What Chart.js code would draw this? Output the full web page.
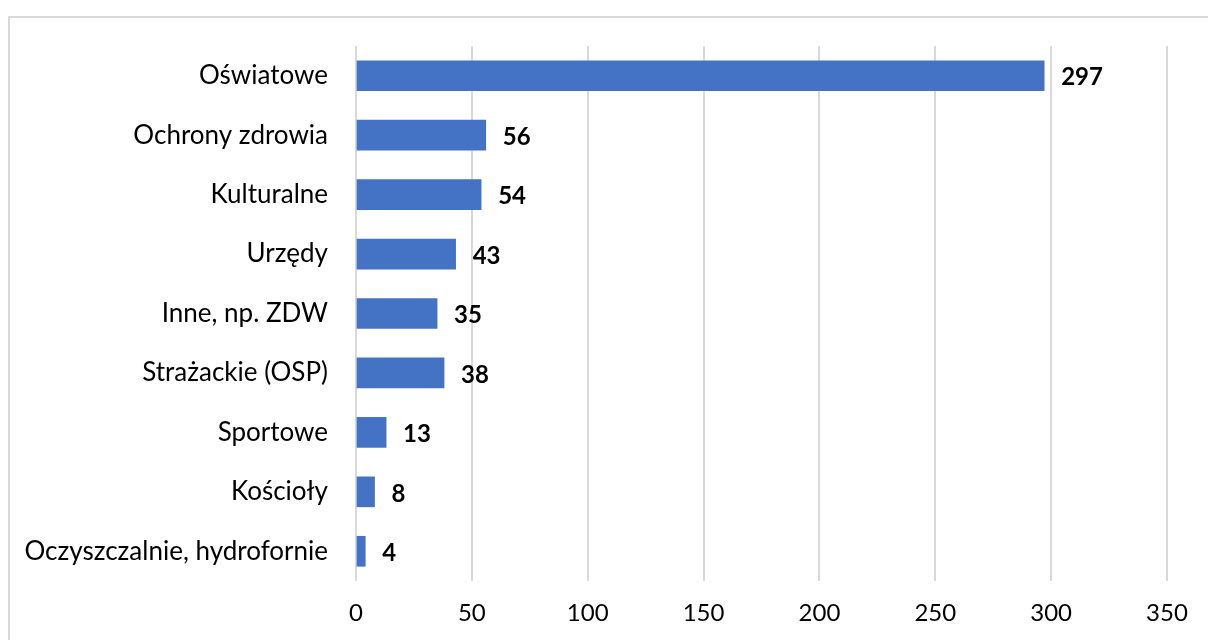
<!DOCTYPE html>
<html>
<head>
<meta charset="utf-8">
<script src="https://cdn.jsdelivr.net/npm/chart.js@4/dist/chart.umd.min.js"></script>
<style>
    html, body { margin: 0; padding: 0; background: #ffffff; overflow: hidden; }
    #frame {
        position: absolute; left: 8px; top: 16px;
        width: 1400px; height: 800px;
        border: 2px solid #d9d9d9;
        box-sizing: border-box;
    }
    #wrap { position: absolute; left: 0; top: 0; width: 1208px; height: 640px; }
</style>
</head>
<body>
<div id="frame"></div>
<div id="wrap"><canvas id="buildingsChart"></canvas></div>
<script>
// data
const categories = [
    'Oświatowe', 'Ochrony zdrowia', 'Kulturalne', 'Urzędy', 'Inne, np. ZDW',
    'Strażackie (OSP)', 'Sportowe', 'Kościoły', 'Oczyszczalnie, hydrofornie'
];
const counts = [297, 56, 54, 43, 35, 38, 13, 8, 4];
const xTicks = [0, 50, 100, 150, 200, 250, 300, 350];

const FONT = "Lato, 'Open Sans', sans-serif";

// value labels at the end of each bar
const valueLabels = {
    id: 'valueLabels',
    afterDatasetsDraw(chart) {
        const { ctx } = chart;
        const meta = chart.getDatasetMeta(0);
        ctx.save();
        ctx.font = "bold 24px " + FONT;
        ctx.fillStyle = '#000000';
        ctx.textAlign = 'left';
        ctx.textBaseline = 'middle';
        meta.data.forEach((bar, i) => {
            ctx.fillText(String(counts[i]), bar.x + 17, bar.y + 2);
        });
        ctx.restore();
    }
};

function initializeBuildingsChart() {
    const ctx = document.getElementById('buildingsChart');
    if (!ctx) return;

    new Chart(ctx, {
        type: 'bar',
        data: {
            labels: categories,
            datasets: [{
                data: counts,
                backgroundColor: '#4472c4',
                barThickness: 30
            }]
        },
        options: {
            indexAxis: 'y',
            responsive: true,
            maintainAspectRatio: false,
            animation: false,
            layout: {
                padding: { top: 46, right: 41, bottom: 0, left: 0 }
            },
            plugins: {
                legend: { display: false },
                tooltip: { enabled: false }
            },
            scales: {
                x: {
                    min: 0,
                    max: 350,
                    afterBuildTicks: (scale) => {
                        scale.ticks = xTicks.map(v => ({ value: v }));
                    },
                    afterFit: (scale) => { scale.height = 59; },
                    grid: {
                        color: '#d9d9d9',
                        lineWidth: 2,
                        drawTicks: false
                    },
                    border: { display: false },
                    ticks: {
                        color: '#000000',
                        padding: 18,
                        font: { family: FONT, size: 24 }
                    }
                },
                y: {
                    afterFit: (scale) => { scale.width = 356; },
                    grid: { display: false, drawTicks: false },
                    border: { display: false },
                    ticks: {
                        color: '#000000',
                        padding: 28,
                        font: { family: FONT, size: 26 }
                    }
                }
            }
        },
        plugins: [valueLabels]
    });
}

document.addEventListener('DOMContentLoaded', function () {
    initializeBuildingsChart();
});
</script>
</body>
</html>
